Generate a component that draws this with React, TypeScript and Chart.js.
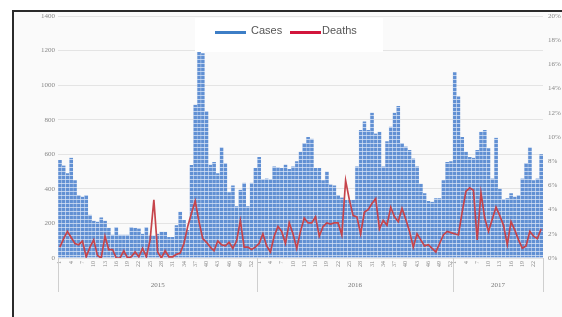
import React, { useEffect, useRef } from "react";
import { Chart, registerables } from "chart.js";

Chart.register(...registerables);

const years = ["2015", "2016", "2017"];
const weeksPerYear = [53, 52, 24];

const cases2015 = [567, 535, 490, 580, 450, 365, 355, 365, 250, 215, 210, 235, 215, 175, 135, 180, 135, 135, 135, 180, 175, 170, 140, 180, 130, 130, 140, 152, 152, 122, 122, 190, 268, 220, 162, 538, 886, 1200, 1185, 850, 540, 555, 490, 640, 550, 380, 420, 300, 395, 435, 300, 435, 520];
const cases2016 = [585, 455, 460, 455, 530, 525, 520, 540, 515, 530, 560, 615, 665, 700, 690, 520, 520, 450, 500, 425, 420, 365, 350, 335, 335, 335, 530, 740, 790, 740, 840, 720, 730, 530, 675, 760, 840, 880, 665, 645, 625, 575, 530, 430, 375, 330, 325, 345, 345, 450, 555, 560];
const cases2017 = [1075, 935, 700, 615, 585, 580, 625, 730, 740, 635, 460, 695, 400, 340, 345, 375, 355, 365, 460, 550, 640, 450, 460, 600];

const deaths2015 = [0.9, 1.6, 2.2, 1.7, 1.2, 1.1, 1.4, 0.1, 0.9, 1.5, 0.2, 0.0, 1.8, 0.7, 0.7, 0.0, 0.0, 0.6, 0.0, 0.1, 0.5, 0.1, 0.8, 0.1, 1.5, 4.8, 0.5, 0.0, 0.6, 0.1, 0.1, 0.3, 0.4, 1.2, 2.6, 3.7, 4.7, 3.0, 1.6, 1.3, 0.9, 0.6, 1.4, 1.1, 1.0, 1.3, 0.8, 1.4, 3.1, 0.9, 0.9, 0.7, 0.9];
const deaths2016 = [1.2, 2.0, 1.0, 0.5, 1.8, 2.6, 2.2, 1.2, 2.9, 2.0, 0.8, 2.2, 3.3, 2.9, 2.9, 3.4, 1.8, 2.6, 2.9, 2.8, 2.9, 2.9, 1.9, 6.4, 4.8, 3.5, 3.4, 2.0, 3.8, 4.0, 4.5, 4.9, 2.4, 3.1, 2.7, 4.2, 3.4, 3.0, 4.1, 3.2, 2.2, 0.9, 2.0, 1.5, 1.0, 1.1, 0.8, 0.5, 1.2, 1.9, 2.2, 2.1];
const deaths2017 = [2.0, 1.9, 3.8, 5.5, 5.8, 5.6, 1.5, 5.4, 3.3, 2.2, 3.2, 4.2, 3.5, 2.7, 1.1, 3.0, 2.3, 1.5, 0.8, 1.0, 2.2, 1.8, 1.6, 2.4];

const leftTicks = { min: 0, max: 1400, step: 200 };
const rightTicks = { min: 0, max: 20, step: 2 };

const weekLabels: string[] = [];
weeksPerYear.forEach((n) => {
  for (let w = 1; w <= n; w++) weekLabels.push(String(w));
});

const casesAll = [...cases2015, ...cases2016, ...cases2017];
const deathsAll = [...deaths2015, ...deaths2016, ...deaths2017];

function makePattern(): CanvasPattern | string {
  const c = document.createElement("canvas");
  c.width = 4;
  c.height = 4;
  const g = c.getContext("2d");
  if (!g) return "#6190d3";
  g.fillStyle = "#6190d3";
  g.fillRect(0, 0, 4, 4);
  g.fillStyle = "#bcd0ee";
  g.fillRect(0, 3, 4, 1);
  return g.createPattern(c, "repeat") || "#6190d3";
}

const bgPlugin = {
  id: "bg",
  beforeDraw(chart: any) {
    const ctx = chart.ctx as CanvasRenderingContext2D;
    ctx.save();
    ctx.fillStyle = "#fafafa";
    ctx.fillRect(14, 12, 562 - 14, 317 - 12);
    ctx.restore();
  },
};

const overlayPlugin = {
  id: "overlay",
  afterDraw(chart: any) {
    const ctx = chart.ctx as CanvasRenderingContext2D;
    const xs = chart.scales.x;
    const area = chart.chartArea;
    const half = (xs.getPixelForValue(1) - xs.getPixelForValue(0)) / 2;
    ctx.save();
    let start = 0;
    const bounds: number[] = [xs.getPixelForValue(0) - half];
    weeksPerYear.forEach((n) => {
      start += n;
      bounds.push(xs.getPixelForValue(start - 1) + half);
    });
    ctx.strokeStyle = "#cfcfcf";
    ctx.lineWidth = 1;
    bounds.forEach((bx) => {
      ctx.beginPath();
      ctx.moveTo(Math.round(bx) + 0.5, area.bottom);
      ctx.lineTo(Math.round(bx) + 0.5, area.bottom + 34);
      ctx.stroke();
    });
    ctx.fillStyle = "#777";
    ctx.font = "7px 'Liberation Serif'";
    ctx.textAlign = "center";
    ctx.textBaseline = "middle";
    years.forEach((y, i) => {
      ctx.fillText(y, (bounds[i] + bounds[i + 1]) / 2, area.bottom + 27);
    });
    // legend
    const lx = 195, ly = 18, lw = 188, lh = 34;
    ctx.fillStyle = "#ffffff";
    ctx.fillRect(lx, ly, lw, lh);
    ctx.font = "11px 'Liberation Sans'";
    ctx.textAlign = "left";
    ctx.textBaseline = "middle";
    const items = chart.data.datasets;
    const positions = [215, 290];
    items.forEach((ds: any, i: number) => {
      const px = positions[i];
      ctx.fillStyle = ds.legendColor;
      ctx.fillRect(px, 31, 31, 3);
      ctx.fillStyle = "#555";
      ctx.fillText(ds.label, px + (i === 0 ? 36 : 32), 30.5);
    });
    // frame
    ctx.fillStyle = "#2a2a2a";
    ctx.fillRect(12, 10, 2, 317 - 10);
    ctx.fillRect(12, 10, 562 - 12, 2);
    ctx.restore();
  },
};

export default function App() {
  const ref = useRef<HTMLCanvasElement | null>(null);
  useEffect(() => {
    if (!ref.current) return;
    const chart = new Chart(ref.current, {
      type: "bar",
      data: {
        labels: weekLabels,
        datasets: [
          {
            type: "bar",
            label: "Cases",
            data: casesAll,
            backgroundColor: makePattern() as any,
            borderColor: "rgba(210,224,245,0.9)",
            borderWidth: { left: 0.6, right: 0, top: 0, bottom: 0 } as any,
            categoryPercentage: 1,
            barPercentage: 1,
            yAxisID: "y",
            order: 2,
            legendColor: "#3d7ec6",
          } as any,
          {
            type: "line",
            label: "Deaths",
            data: deathsAll,
            borderColor: "#c6444b",
            borderWidth: 1.7,
            pointRadius: 0,
            tension: 0,
            yAxisID: "y1",
            order: 1,
            legendColor: "#d2163c",
          } as any,
        ],
      },
      options: {
        animation: false,
        responsive: true,
        maintainAspectRatio: false,
        layout: { padding: { top: 16, left: 0, right: 0, bottom: 0 } },
        plugins: { legend: { display: false }, tooltip: { enabled: false } },
        scales: {
          x: {
            grid: { display: false, drawTicks: false },
            border: { display: false },
            ticks: {
              autoSkip: false,
              minRotation: 90,
              maxRotation: 90,
              padding: 3,
              color: "#888",
              font: { size: 6, family: "'Liberation Serif'" },
              callback: function (this: any, v: any, i: number) {
                const lab = weekLabels[i];
                return (Number(lab) - 1) % 3 === 0 ? lab : "";
              },
            },
            afterFit(s: any) {
              s.height = 59;
            },
          },
          y: {
            position: "left",
            min: leftTicks.min,
            max: leftTicks.max,
            ticks: {
              stepSize: leftTicks.step,
              color: "#888",
              padding: 3,
              font: { size: 7, family: "'Liberation Serif'" },
              callback: (v: any) => String(v),
            },
            grid: { color: "#e4e4e4", drawTicks: false },
            border: { display: false },
            afterFit(s: any) {
              s.width = 58;
            },
          },
          y1: {
            position: "right",
            min: rightTicks.min,
            max: rightTicks.max,
            ticks: {
              stepSize: rightTicks.step,
              color: "#888",
              padding: 5,
              font: { size: 7, family: "'Liberation Serif'" },
              callback: (v: any) => v + "%",
            },
            grid: { drawOnChartArea: false, drawTicks: false },
            border: { display: false },
            afterFit(s: any) {
              s.width = 19;
            },
          },
        },
      },
      plugins: [bgPlugin, overlayPlugin],
    });
    return () => chart.destroy();
  }, []);
  return (
    <div style={{ position: "fixed", left: 0, top: 0, width: 562, height: 317, background: "#fff" }}>
      <canvas ref={ref} />
    </div>
  );
}
